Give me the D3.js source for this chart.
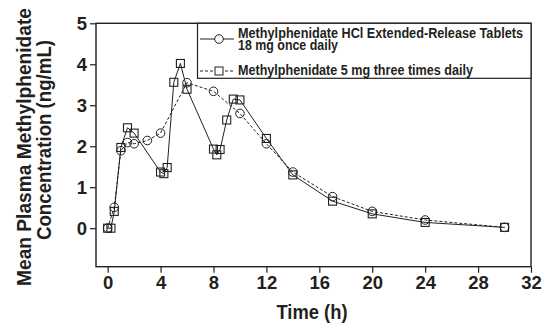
<!DOCTYPE html>
<html><head><meta charset="utf-8">
<script src="https://cdn.jsdelivr.net/npm/d3@7/dist/d3.min.js"></script>
<style>
html,body{margin:0;padding:0;background:#fff;}
svg text{font-family:"Liberation Sans Narrow","Arial Narrow","Liberation Sans",Arial,sans-serif;font-weight:bold;fill:#231f20;}
</style></head>
<body><svg id="c" width="551" height="332"></svg>
<script>
// Square series (drawn with solid line in the plot)
const tSq = [0, 0.25, 0.5, 1, 1.5, 2, 4, 4.25, 4.5, 5, 5.5, 6, 8, 8.25, 8.5, 9, 9.5, 10, 12, 14, 17, 20, 24, 30];
const ySq = [0, 0, 0.41, 1.97, 2.45, 2.32, 1.37, 1.33, 1.48, 3.56, 4.02, 3.39, 1.93, 1.79, 1.92, 2.64, 3.15, 3.13, 2.19, 1.30, 0.66, 0.35, 0.14, 0.02];
// Circle series (drawn with dashed line in the plot)
const tCi = [0, 0.5, 1, 1.5, 2, 3, 4, 6, 8, 10, 12, 14, 17, 20, 24, 30];
const yCi = [0, 0.51, 1.89, 2.09, 2.06, 2.14, 2.32, 3.55, 3.34, 2.80, 2.06, 1.37, 0.77, 0.41, 0.20, 0.02];
const xTicks = [0, 4, 8, 12, 16, 20, 24, 28, 32];
const yTicks = [0, 1, 2, 3, 4, 5];
const legendLabels = ["Methylphenidate HCl Extended-Release Tablets", "18 mg once daily", "Methylphenidate 5 mg three times daily"];

const svg = d3.select("#c");
const ink = "#231f20";
const x = d3.scaleLinear().domain([-0.88, 32]).range([96, 531]);
const y = d3.scaleLinear().domain([-0.94, 5]).range([266.7, 23.3]);

// frame
svg.append("rect").attr("x", x.range()[0]).attr("y", y.range()[1])
  .attr("width", x.range()[1]-x.range()[0]).attr("height", y.range()[0]-y.range()[1])
  .attr("fill","none").attr("stroke",ink).attr("stroke-width",1.4);

// axes
const xa = svg.append("g").attr("transform",`translate(0,${y.range()[0]})`)
  .call(d3.axisBottom(x).tickValues(xTicks).tickSize(6).tickPadding(3).tickFormat(d3.format("d")));
const ya = svg.append("g").attr("transform",`translate(${x.range()[0]},0)`)
  .call(d3.axisLeft(y).tickValues(yTicks).tickSize(6).tickPadding(3).tickFormat(d3.format("d")));
[xa, ya].forEach(g => {
  g.select(".domain").remove();
  g.selectAll(".tick line").attr("stroke", ink).attr("stroke-width", 1.2);
  g.selectAll(".tick text").style("font-size","18.5px").attr("fill", ink);
});

// axis titles
svg.append("text").attr("x", 312).attr("y", 319).attr("text-anchor","middle")
  .attr("textLength",71).attr("lengthAdjust","spacingAndGlyphs")
  .style("font-size","21px").text("Time (h)");
svg.append("text").attr("transform","translate(30.5,147) rotate(-90)").attr("text-anchor","middle")
  .attr("textLength",278).attr("lengthAdjust","spacingAndGlyphs")
  .style("font-size","21px").text("Mean Plasma Methylphenidate");
svg.append("text").attr("transform","translate(51,140) rotate(-90)").attr("text-anchor","middle")
  .attr("textLength",200).attr("lengthAdjust","spacingAndGlyphs")
  .style("font-size","21px").text("Concentration (ng/mL)");

// series
const sq = tSq.map((t,i)=>({t, v:ySq[i]}));
const ci = tCi.map((t,i)=>({t, v:yCi[i]}));
const line = d3.line().x(d=>x(d.t)).y(d=>y(d.v));
svg.append("path").datum(ci).attr("d",line).attr("fill","none").attr("stroke",ink).attr("stroke-width",1).attr("stroke-dasharray","3,2");
svg.append("path").datum(sq).attr("d",line).attr("fill","none").attr("stroke",ink).attr("stroke-width",1);
const r = 4.3, s = 8;
svg.append("g").selectAll("circle").data(ci).join("circle")
  .attr("cx",d=>x(d.t)).attr("cy",d=>y(d.v)).attr("r",r)
  .attr("fill","none").attr("stroke",ink).attr("stroke-width",1);
svg.append("g").selectAll("rect").data(sq).join("rect")
  .attr("x",d=>x(d.t)-s/2).attr("y",d=>y(d.v)-s/2).attr("width",s).attr("height",s)
  .attr("fill","none").attr("stroke",ink).attr("stroke-width",1.1);

// legend
const lg = svg.append("g");
lg.append("rect").attr("x",197.5).attr("y",y.range()[1]).attr("width",x.range()[1]-197.5).attr("height",55)
  .attr("fill","#fff").attr("stroke",ink).attr("stroke-width",1.2);
lg.append("line").attr("x1",200).attr("x2",234).attr("y1",39).attr("y2",39).attr("stroke",ink).attr("stroke-width",1);
lg.append("circle").attr("cx",219).attr("cy",39).attr("r",r).attr("fill","#fff").attr("stroke",ink);
lg.append("line").attr("x1",200).attr("x2",234).attr("y1",71).attr("y2",71).attr("stroke",ink).attr("stroke-width",1).attr("stroke-dasharray","3,2");
lg.append("rect").attr("x",219-s/2).attr("y",71-s/2).attr("width",s).attr("height",s).attr("fill","#fff").attr("stroke",ink);
const lw = [285, 100, 235], ly = [37.5, 50, 75];
legendLabels.forEach((t,i) => {
  lg.append("text").attr("x",238).attr("y",ly[i]).style("font-size","14.5px")
    .attr("textLength",lw[i]).attr("lengthAdjust","spacingAndGlyphs").text(t);
});
</script></body></html>
